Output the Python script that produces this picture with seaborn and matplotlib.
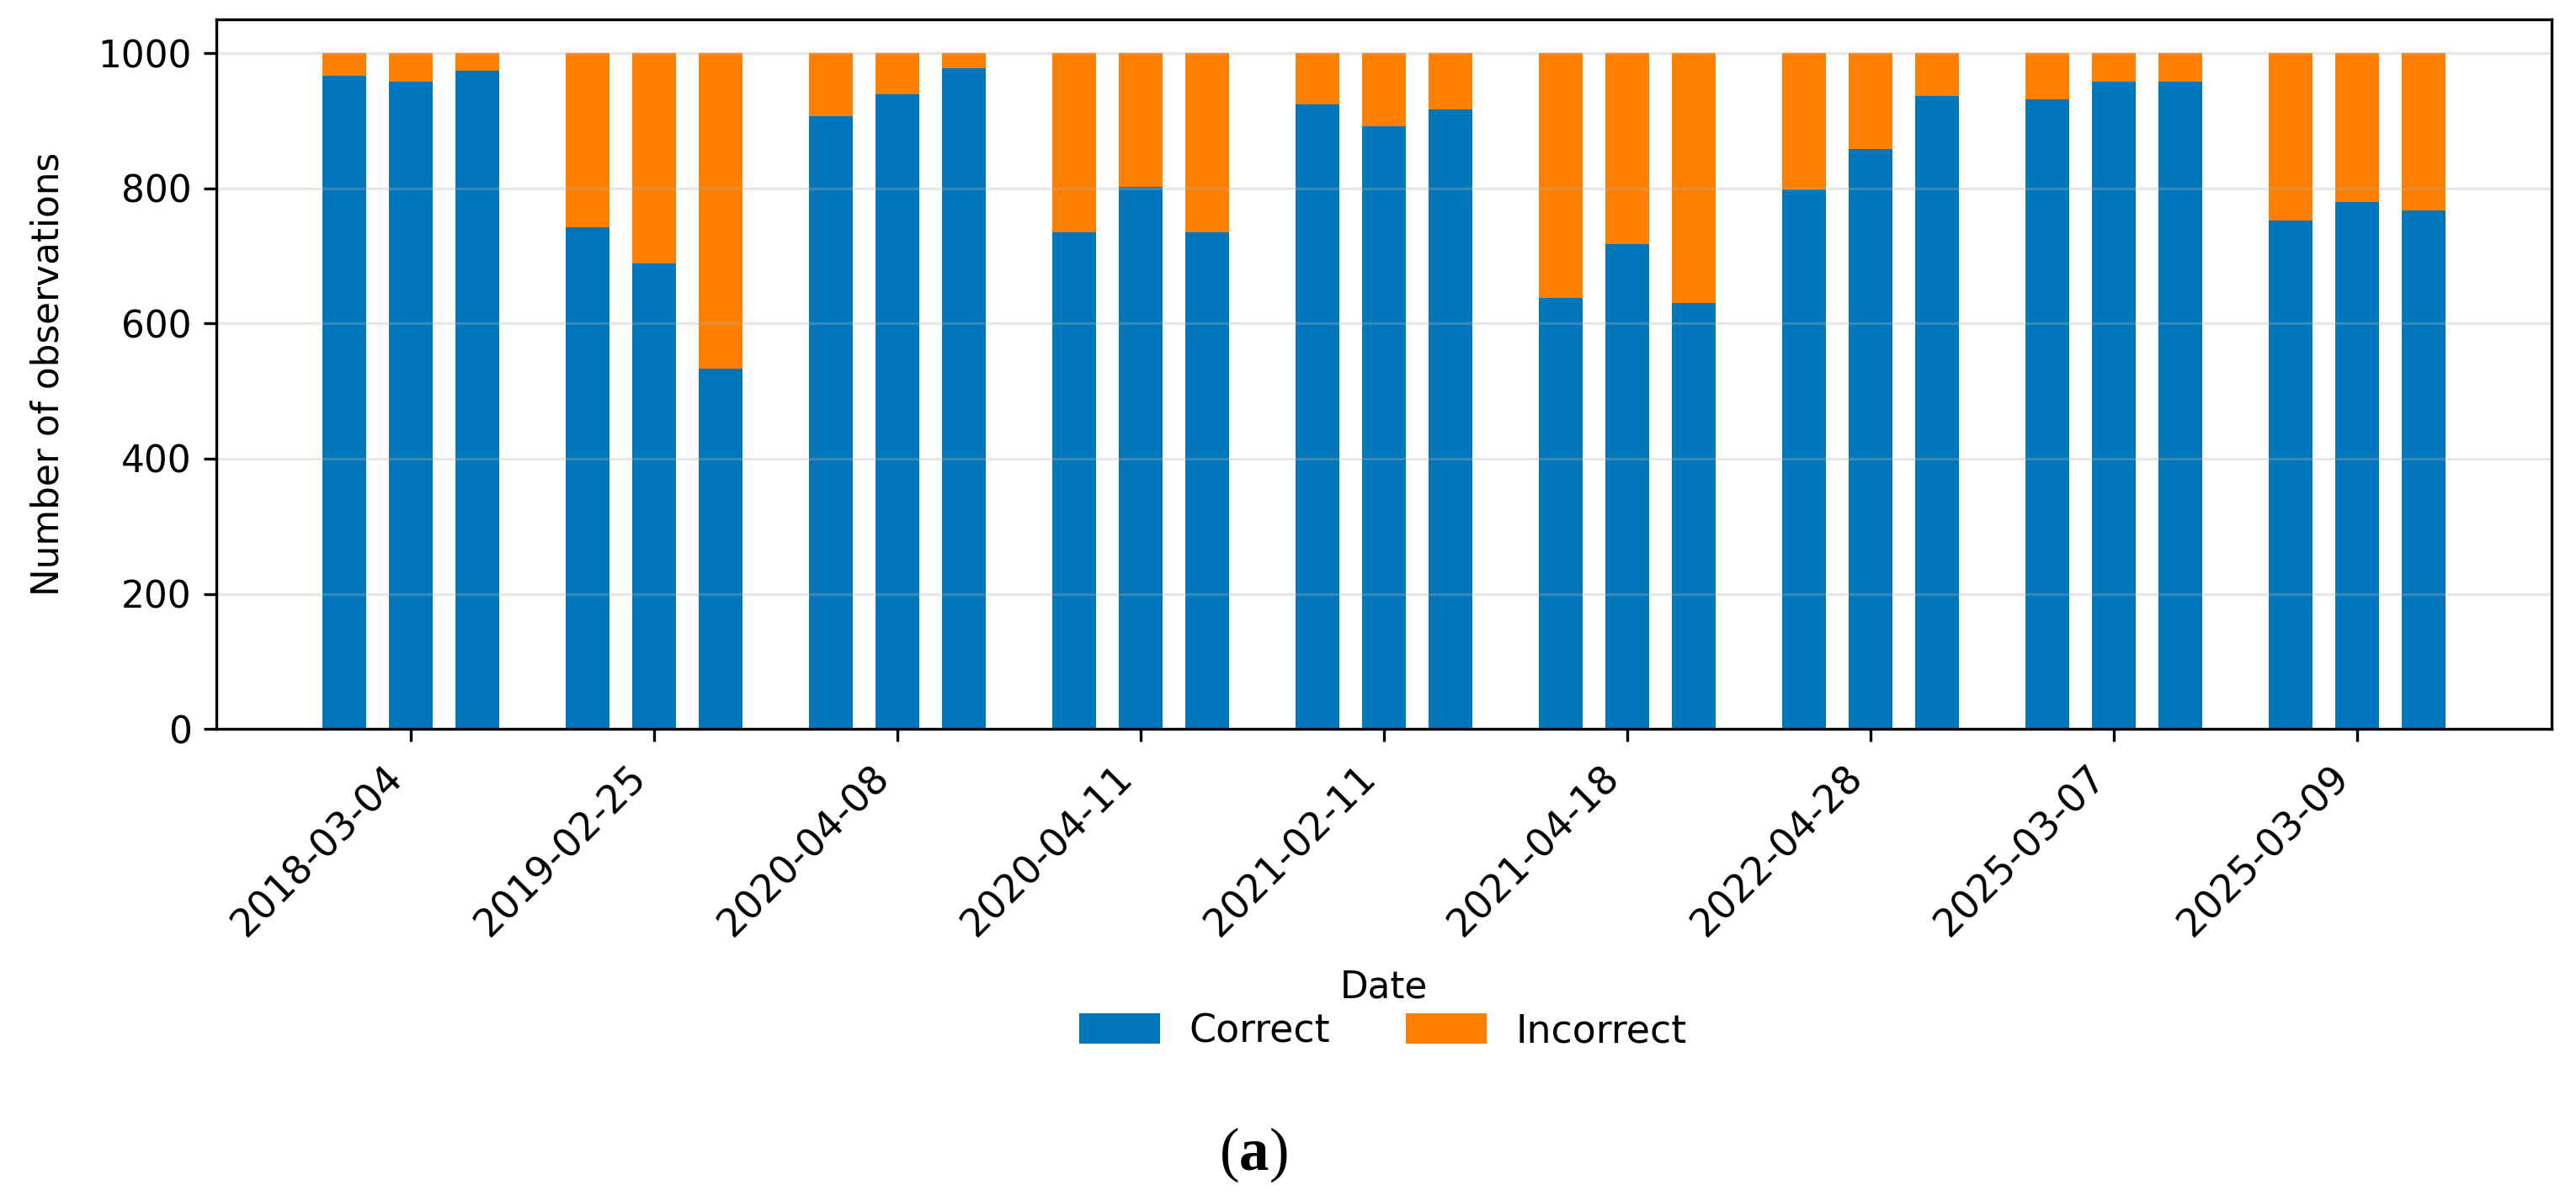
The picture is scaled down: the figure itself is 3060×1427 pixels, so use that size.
import matplotlib
matplotlib.use("Agg")
import matplotlib.pyplot as plt
import matplotlib.patches as mpatches
import seaborn as sns
import pandas as pd

dates = ["2018-03-04", "2019-02-25", "2020-04-08", "2020-04-11", "2021-02-11",
         "2021-04-18", "2022-04-28", "2025-03-07", "2025-03-09"]
runs = ["run 1", "run 2", "run 3"]
total = 1000

# correct observations per date, one value per run
correct_run1 = [967, 743, 907, 735, 924, 638, 799, 932, 752]
correct_run2 = [958, 689, 940, 802, 892, 718, 858, 958, 780]
correct_run3 = [974, 533, 978, 735, 917, 630, 937, 958, 768]

blue = "#0077BB"
orange = "#FF8000"
fs = 10.5

rows = []
for run, vals in zip(runs, [correct_run1, correct_run2, correct_run3]):
    for d, v in zip(dates, vals):
        rows.append({"date": d, "run": run, "correct": v, "total": total})
df = pd.DataFrame(rows)

plt.rcParams["mathtext.fontset"] = "custom"
plt.rcParams["mathtext.rm"] = "Liberation Serif"
plt.rcParams["mathtext.bf"] = "Liberation Serif:bold"

fig, ax = plt.subplots(figsize=(10.2, 4.7567), dpi=300)
fig.subplots_adjust(left=0.084, right=0.9905, top=0.9837, bottom=0.3931)

# incorrect part = full bar in orange, correct part drawn over it in blue
sns.barplot(data=df, x="date", y="total", hue="run", order=dates, hue_order=runs,
            palette=[orange] * 3, saturation=1, width=0.82, gap=0.34,
            errorbar=None, legend=False, ax=ax)
sns.barplot(data=df, x="date", y="correct", hue="run", order=dates, hue_order=runs,
            palette=[blue] * 3, saturation=1, width=0.82, gap=0.34,
            errorbar=None, legend=False, ax=ax)

ax.set_xlim(-0.8, len(dates) - 0.2)
ax.set_ylim(0, 1050)
ax.grid(axis="y", alpha=0.3)
ax.set_xlabel("Date", fontsize=fs, labelpad=7)
ax.set_ylabel("Number of observations", fontsize=fs, labelpad=9)
ax.tick_params(axis="y", labelsize=fs)
ax.tick_params(axis="x", labelsize=11, pad=5)
plt.setp(ax.get_xticklabels(), rotation=45, ha="right")

handles = [mpatches.Patch(color=blue, label="Correct"),
           mpatches.Patch(color=orange, label="Incorrect")]
ax.legend(handles=handles, loc="center", bbox_to_anchor=(0.5, -0.427),
          ncol=2, frameon=False, fontsize=11)

fig.text(0.4866, 0.0385, r"($\mathbf{a}$)", family="Liberation Serif",
         fontsize=17, ha="center", va="center")

fig.savefig("out.png", dpi=300)
